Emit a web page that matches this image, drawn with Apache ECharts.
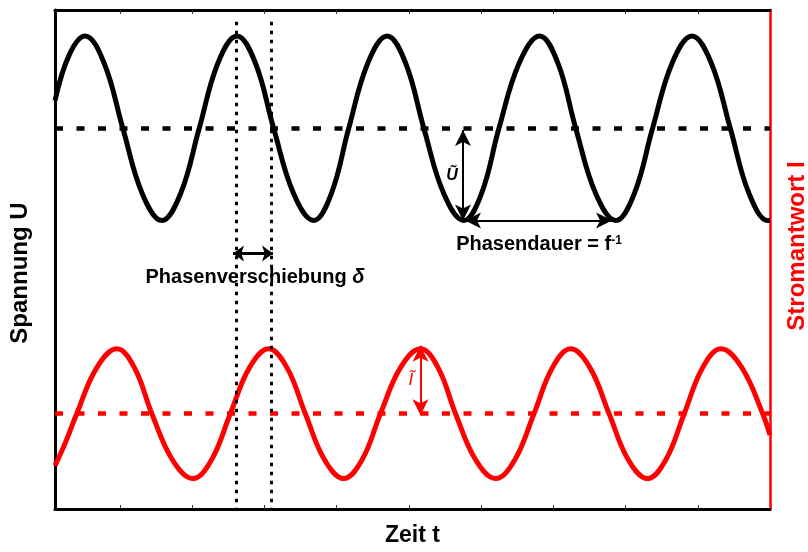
<!DOCTYPE html>
<html>
<head>
<meta charset="utf-8">
<script src="https://cdn.jsdelivr.net/npm/echarts@6/dist/echarts.min.js"></script>
<style>
  html, body { margin: 0; padding: 0; background: #fff; }
  #chart { width: 808px; height: 552px; }
</style>
</head>
<body>
<div id="chart"></div>
<script>
// Time axis (arbitrary units) and its inner tick marks
const timeRange = [0, 99];
const timeTicks = [9, 19, 29, 39, 49, 59, 69, 79, 89];

// Applied voltage U(t): [time, deviation from the mean level]
const voltage = [
  [0, 0.30], [2.0, 0.80], [4.16, 1], [6.78, 0.71], [9.39, 0], [12.09, -0.71],
  [14.79, -1], [17.38, -0.71], [19.97, 0], [22.58, 0.71], [25.19, 1], [27.73, 0.71],
  [30.27, 0], [33.05, -0.71], [35.82, -1], [38.25, -0.71], [40.67, 0], [43.33, 0.71],
  [45.99, 1], [48.53, 0.71], [51.07, 0], [53.84, -0.71], [56.61, -1], [59.04, -0.71],
  [61.47, 0], [64.29, 0.71], [67.11, 1], [69.61, 0.71], [72.10, 0], [74.88, -0.71],
  [77.65, -1], [80.20, -0.71], [82.74, 0], [85.47, 0.71], [88.19, 1], [90.85, 0.71],
  [93.50, 0], [96.11, -0.71], [98.72, -1], [99, -1]
];

// Current response I(t): [time, deviation from the mean level]
const current = [
  [0, -0.80], [1.5, -0.43], [3.01, 0], [5.79, 0.71], [8.56, 1], [10.99, 0.71],
  [13.41, 0], [16.25, -0.71], [19.09, -1], [21.68, -0.71], [24.27, 0], [26.93, 0.71],
  [29.58, 1], [32.12, 0.71], [34.66, 0], [37.32, -0.71], [39.97, -1], [42.52, -0.71],
  [45.06, 0], [47.84, 0.71], [50.61, 1], [53.04, 0.71], [55.46, 0], [58.24, -0.71],
  [61.01, -1], [63.67, -0.71], [66.32, 0], [68.87, 0.71], [71.41, 1], [74.07, 0.71],
  [76.72, 0], [79.38, -0.71], [82.04, -1], [84.58, -0.71], [87.12, 0], [89.67, 0.71],
  [92.21, 1], [95.10, 0.71], [97.99, 0], [99, -0.33]
];

// Value ranges of the two vertical axes
const voltageRange = [-4.124, 1.281];
const currentRange = [-1.469, 6.223];

// Annotation anchors in data units
const phaseMarks = [25.12, 29.91];          // times of the two compared maxima
const phaseMarkSpan = [6.04, -1.469];       // vertical extent (current axis)
const phaseArrow = [[24.65, -1.357], [30.19, -1.357]];
const ampUArrow = [[56.49, -0.02], [56.49, -1.0]];
const periodArrow = [[56.77, -1.0], [77.13, -1.0]];
const ampIArrow = [[50.61, 1.046], [50.61, -0.023]];
const phaseLabelAt = [27.69, -1.616];
const periodLabelAt = [67.02, -1.26];
const ampULabelAt = [54.97, -0.514];
const ampILabelAt = [49.29, 0.515];

const FONT = '"Liberation Sans", Arial, Helvetica, sans-serif';
const RED = '#ff0000';

function arrowLine(pair, color, width, head) {
  const end = { symbol: 'arrow', symbolSize: head };
  return [
    Object.assign({ coord: pair[0], lineStyle: { color: color, width: width, type: 'solid' } }, end),
    Object.assign({ coord: pair[1] }, end)
  ];
}

function textMark(at, text, style) {
  return {
    coord: at,
    symbol: 'circle',
    symbolSize: 1,
    itemStyle: { color: 'rgba(0,0,0,0)' },
    label: Object.assign({
      show: true,
      position: 'inside',
      formatter: text,
      fontFamily: FONT
    }, style)
  };
}

const chart = echarts.init(document.getElementById('chart'), null, { renderer: 'canvas' });

const timeAxisBase = {
  type: 'value',
  min: timeRange[0],
  max: timeRange[1],
  axisLine: { show: true, onZero: false, lineStyle: { color: '#000', width: 3 } },
  axisTick: {
    show: true, inside: true, length: 4, customValues: timeTicks,
    lineStyle: { color: '#333', width: 1 }
  },
  axisLabel: { show: false },
  splitLine: { show: false }
};

chart.setOption({
  animation: false,
  backgroundColor: '#fff',
  grid: { left: 55, right: 38, top: 10, bottom: 42 },
  xAxis: [
    Object.assign({}, timeAxisBase, {
      position: 'bottom',
      name: 'Zeit t',
      nameLocation: 'middle',
      nameGap: 15,
      nameTextStyle: { fontFamily: FONT, fontSize: 23, fontWeight: 'bold', color: '#000' }
    }),
    Object.assign({}, timeAxisBase, { position: 'top' })
  ],
  yAxis: [
    {
      type: 'value', position: 'left',
      min: voltageRange[0], max: voltageRange[1],
      axisLine: { show: true, onZero: false, lineStyle: { color: '#000', width: 3 } },
      axisTick: { show: false }, axisLabel: { show: false }, splitLine: { show: false }
    },
    {
      type: 'value', position: 'right',
      min: currentRange[0], max: currentRange[1],
      axisLine: { show: true, onZero: false, lineStyle: { color: RED, width: 2.5 } },
      axisTick: { show: false }, axisLabel: { show: false }, splitLine: { show: false }
    }
  ],
  graphic: [
    {
      type: 'text', x: 20, y: 273, rotation: Math.PI / 2,
      style: {
        text: 'Spannung U', fill: '#000', font: 'bold 24px ' + FONT,
        align: 'center', verticalAlign: 'middle'
      }
    },
    {
      type: 'text', x: 797, y: 246, rotation: Math.PI / 2,
      style: {
        text: 'Stromantwort I', fill: RED, font: 'bold 24px ' + FONT,
        align: 'center', verticalAlign: 'middle'
      }
    }
  ],
  series: [
    {
      name: 'Spannung U',
      type: 'line',
      xAxisIndex: 0, yAxisIndex: 0,
      data: voltage,
      smooth: 0.4,
      symbol: 'none',
      silent: true,
      lineStyle: { color: '#000', width: 5 },
      markLine: {
        silent: true, symbol: ['none', 'none'],
        label: { show: false },
        emphasis: { disabled: true },
        data: [
          { yAxis: 0, lineStyle: { color: '#000', width: 4.5, type: [8, 13.5], cap: 'butt' } },
          arrowLine(ampUArrow, '#000', 2, [12, 16]),
          arrowLine(periodArrow, '#000', 2, [12, 16]),
          arrowLine(phaseArrow, '#000', 3, [12, 11])
        ]
      },
      markPoint: {
        silent: true,
        data: [
          textMark(phaseLabelAt, 'Phasenverschiebung {d|δ}', {
            color: '#000', fontSize: 20, fontWeight: 'bold',
            rich: { d: { fontFamily: FONT, fontSize: 20, fontStyle: 'italic', fontWeight: 'bold', color: '#000' } }
          }),
          textMark(periodLabelAt, 'Phasendauer = f{s|-1}', {
            color: '#000', fontSize: 20, fontWeight: 'bold',
            rich: { s: { fontFamily: FONT, fontSize: 12, fontWeight: 'bold', color: '#000', verticalAlign: 'top' } }
          }),
          textMark(ampULabelAt, 'Ũ', {
            color: '#000', fontSize: 16, fontWeight: 'bold', fontStyle: 'italic'
          })
        ]
      }
    },
    {
      name: 'Stromantwort I',
      type: 'line',
      xAxisIndex: 0, yAxisIndex: 1,
      data: current,
      smooth: 0.4,
      symbol: 'none',
      silent: true,
      lineStyle: { color: RED, width: 5 },
      markLine: {
        silent: true, symbol: ['none', 'none'],
        label: { show: false },
        emphasis: { disabled: true },
        data: [
          { yAxis: 0, lineStyle: { color: RED, width: 4.5, type: [8, 13.5], cap: 'butt' } },
          [
            { coord: [phaseMarks[0], phaseMarkSpan[0]], lineStyle: { color: '#000', width: 3, type: [3.5, 5.5], cap: 'butt' } },
            { coord: [phaseMarks[0], phaseMarkSpan[1]] }
          ],
          [
            { coord: [phaseMarks[1], phaseMarkSpan[0]], lineStyle: { color: '#000', width: 3, type: [3.5, 5.5], cap: 'butt' } },
            { coord: [phaseMarks[1], phaseMarkSpan[1]] }
          ],
          arrowLine(ampIArrow, RED, 2, [12, 16])
        ]
      },
      markPoint: {
        silent: true,
        data: [
          textMark(ampILabelAt, 'Ĩ', {
            color: RED, fontSize: 17, fontStyle: 'italic'
          })
        ]
      }
    }
  ]
});
</script>
</body>
</html>
